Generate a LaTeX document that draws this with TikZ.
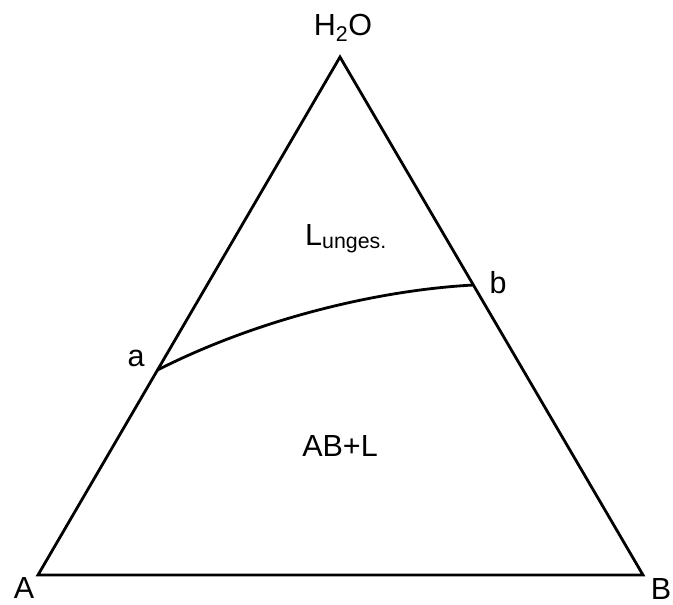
\documentclass[tikz,border=0pt]{standalone}
\usepackage{fontspec}
\setmainfont{Liberation Sans}
\begin{document}
\begin{tikzpicture}[x=1pt,y=-1pt,
  edge/.style={line width=2.8pt,line join=miter,line cap=butt},
  lbl/.style={font=\fontsize{30.5}{33}\selectfont,inner sep=0pt}]
\useasboundingbox (0,0) rectangle (673,605);
\coordinate (A) at (38,575);
\coordinate (B) at (643,575);
\coordinate (C) at (340,57);
\coordinate (a) at (157.5,370);
\coordinate (b) at (473.5,285);
\draw[edge] (A) -- (B) -- (C) -- cycle;
\draw[edge] (a) .. controls (260,318) and (380,290) .. (b);
\node[lbl] (lA) at (24,588) {A};
\node[lbl] (lB) at (661,589) {B};
\node[lbl,anchor=base] (lC) at (343,35) {H\textsubscript{2}O};
\node[lbl] (la) at (136,358) {a};
\node[lbl] (lb) at (498,283) {b};
\node[lbl,anchor=base west] (lL) at (305,245) {L\textsubscript{unges.}};
\node[lbl] (lAB) at (340,446) {AB+L};
\end{tikzpicture}
\end{document}
